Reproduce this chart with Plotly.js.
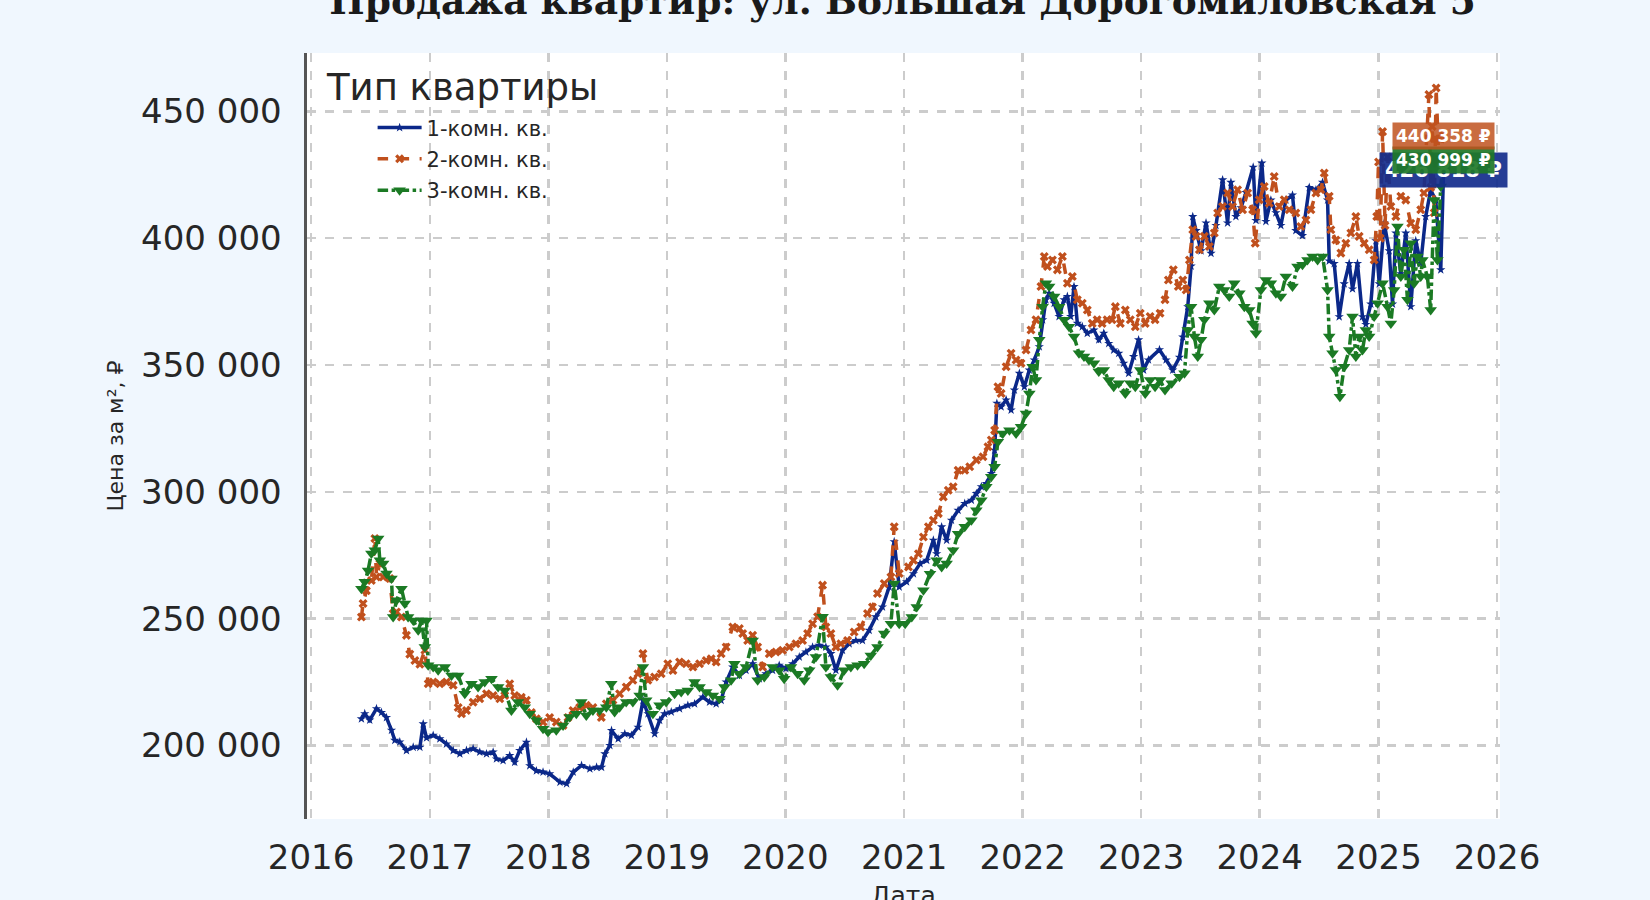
<!DOCTYPE html>
<html>
<head>
<meta charset="utf-8">
<script src="https://cdn.plot.ly/plotly-3.0.1.min.js"></script>
<style>html,body{margin:0;padding:0;background:#F0F7FE;}</style>
</head>
<body>
<div id="chart" style="width:1650px;height:900px;"></div>
<script>
// ---- data (dates as decimal years, prices in ₽ per m²) ----
const seriesNames = ['1-комн. кв.', '2-комн. кв.', '3-комн. кв.'];
const legendTitle = 'Тип квартиры';
const xTitle = 'Дата';
const yearTicks = [2016, 2017, 2018, 2019, 2020, 2021, 2022, 2023, 2024, 2025, 2026];
const priceTicks = [200000, 250000, 300000, 350000, 400000, 450000];

const oneRoomYears = [2016.424,2016.452,2016.494,2016.551,2016.593,2016.635,2016.677,2016.705,2016.747,2016.803,2016.860,2016.916,2016.944,2016.972,2017.028,2017.084,2017.140,2017.197,2017.253,2017.309,2017.365,2017.421,2017.478,2017.534,2017.562,2017.618,2017.674,2017.716,2017.758,2017.815,2017.843,2017.899,2017.955,2018.011,2018.098,2018.154,2018.210,2018.280,2018.350,2018.407,2018.449,2018.477,2018.519,2018.533,2018.589,2018.645,2018.701,2018.757,2018.799,2018.841,2018.897,2018.939,2018.981,2019.037,2019.107,2019.177,2019.234,2019.304,2019.360,2019.416,2019.458,2019.500,2019.556,2019.612,2019.668,2019.724,2019.780,2019.836,2019.892,2019.948,2020.004,2020.061,2020.117,2020.173,2020.229,2020.285,2020.341,2020.383,2020.425,2020.481,2020.537,2020.593,2020.649,2020.705,2020.761,2020.817,2020.874,2020.916,2020.958,2021.020,2021.078,2021.134,2021.190,2021.246,2021.274,2021.316,2021.358,2021.399,2021.455,2021.511,2021.567,2021.609,2021.651,2021.693,2021.735,2021.763,2021.782,2021.818,2021.860,2021.902,2021.930,2021.972,2022.014,2022.056,2022.098,2022.140,2022.168,2022.196,2022.223,2022.265,2022.307,2022.349,2022.377,2022.405,2022.433,2022.461,2022.503,2022.545,2022.601,2022.642,2022.684,2022.726,2022.768,2022.810,2022.852,2022.894,2022.936,2022.978,2023.020,2023.061,2023.154,2023.210,2023.266,2023.323,2023.351,2023.393,2023.421,2023.435,2023.463,2023.505,2023.547,2023.589,2023.631,2023.687,2023.729,2023.757,2023.799,2023.842,2023.884,2023.945,2023.968,2024.018,2024.052,2024.094,2024.136,2024.178,2024.220,2024.276,2024.304,2024.360,2024.417,2024.473,2024.529,2024.571,2024.585,2024.627,2024.669,2024.711,2024.753,2024.781,2024.823,2024.865,2024.893,2024.935,2024.978,2025.006,2025.048,2025.090,2025.118,2025.146,2025.188,2025.230,2025.272,2025.314,2025.356,2025.398,2025.440,2025.483,2025.525,2025.549];
const oneRoomPrices = [210500,212500,210000,214500,213000,211000,206000,202000,201400,198000,199300,199300,208500,203000,204000,202600,200600,198000,196700,198000,198700,197400,196700,197400,194700,194000,196000,193400,198000,201300,192000,190000,189500,188800,185500,184900,189500,192100,190800,191400,191400,196700,200000,205900,202600,204600,204000,207200,217800,212500,204600,209900,212500,213200,214500,215800,216400,219100,217100,216400,217800,225000,230900,227600,229600,232200,226300,228300,229600,231600,230300,232200,234900,236800,238800,239500,238800,236200,229600,237500,240100,241400,241400,245400,250700,254600,262500,280300,262500,264500,267700,271700,273000,280900,275600,286200,280900,288800,292700,295400,296700,299300,302000,303300,307200,316400,334900,333500,336200,332200,340100,346700,341400,348000,352000,357200,367800,375700,378300,374300,369100,375700,377000,369100,380900,366400,365100,362500,363800,359900,362500,358500,355900,354600,350700,346700,353300,359900,348000,352000,356000,352000,348000,353000,361000,373000,389000,408500,403000,395000,406000,394000,405000,423000,406000,422000,408500,412000,418000,428000,407000,429600,406600,415000,410000,405000,415000,417000,403000,401000,420000,419000,422000,415000,391000,390000,369000,382000,390000,380000,390000,369000,366000,374000,399000,382000,406000,395000,374000,402000,386000,402000,373000,399000,390000,408500,419000,415000,387500,426818];

const twoRoomYears = [2016.424,2016.438,2016.466,2016.508,2016.537,2016.551,2016.579,2016.607,2016.663,2016.691,2016.719,2016.761,2016.803,2016.831,2016.874,2016.916,2016.958,2016.986,2017.028,2017.084,2017.140,2017.197,2017.239,2017.267,2017.309,2017.365,2017.421,2017.478,2017.534,2017.590,2017.632,2017.674,2017.716,2017.772,2017.815,2017.857,2017.899,2017.955,2018.011,2018.067,2018.124,2018.166,2018.208,2018.264,2018.320,2018.376,2018.447,2018.489,2018.545,2018.601,2018.657,2018.713,2018.756,2018.798,2018.840,2018.896,2018.952,2019.008,2019.051,2019.107,2019.163,2019.220,2019.276,2019.332,2019.374,2019.416,2019.458,2019.500,2019.556,2019.612,2019.640,2019.682,2019.724,2019.766,2019.808,2019.864,2019.920,2019.976,2020.033,2020.089,2020.145,2020.187,2020.229,2020.271,2020.313,2020.341,2020.383,2020.425,2020.467,2020.523,2020.579,2020.635,2020.691,2020.733,2020.775,2020.832,2020.888,2020.916,2020.958,2021.036,2021.078,2021.120,2021.162,2021.204,2021.246,2021.288,2021.330,2021.372,2021.413,2021.455,2021.511,2021.553,2021.609,2021.665,2021.707,2021.735,2021.763,2021.791,2021.818,2021.860,2021.902,2021.944,2021.986,2022.028,2022.070,2022.112,2022.154,2022.182,2022.209,2022.251,2022.293,2022.335,2022.377,2022.419,2022.461,2022.503,2022.545,2022.587,2022.628,2022.670,2022.712,2022.754,2022.782,2022.824,2022.866,2022.908,2022.950,2022.992,2023.034,2023.075,2023.117,2023.159,2023.201,2023.229,2023.271,2023.313,2023.351,2023.379,2023.407,2023.435,2023.463,2023.491,2023.533,2023.575,2023.617,2023.645,2023.687,2023.729,2023.771,2023.813,2023.856,2023.898,2023.940,2023.962,2023.996,2024.038,2024.080,2024.122,2024.164,2024.206,2024.248,2024.304,2024.346,2024.389,2024.431,2024.473,2024.515,2024.543,2024.585,2024.599,2024.641,2024.683,2024.725,2024.767,2024.809,2024.837,2024.879,2024.921,2024.963,2024.985,2025.000,2025.015,2025.034,2025.055,2025.076,2025.104,2025.146,2025.188,2025.230,2025.272,2025.314,2025.356,2025.383,2025.425,2025.440,2025.453,2025.470,2025.486,2025.508,2025.549];
const twoRoomPrices = [250600,256000,261000,265000,281600,266400,271700,266400,265800,252000,252600,250600,243400,236000,233500,232000,237500,224300,225000,224300,225000,223700,215000,212500,213800,217000,218400,220400,219700,218400,219700,224300,219700,219000,217800,213000,210500,209200,211000,209200,207900,211000,213800,215000,215800,215000,211000,216400,217800,220400,223000,225700,228300,236200,225700,227000,228300,232200,229600,232900,232200,230900,232200,233500,234200,232900,236200,238800,246700,246100,244100,241400,243400,238800,230900,236200,236800,237500,238800,240100,241400,244100,248000,250700,263200,246700,244100,238800,240100,241400,244700,246700,252000,254600,259900,263800,266400,286200,267800,270400,273000,275600,282200,286200,288800,291400,298000,300600,302000,308500,308500,309900,312500,313800,317800,320400,324300,341400,338800,349300,354600,352000,350700,355900,363800,367800,380900,392800,388800,391400,387500,392800,382200,384900,375700,374300,371700,366400,367800,366400,367800,367800,373000,366400,371700,367800,365100,370400,366400,369100,367800,370400,375700,383500,387500,380900,383500,379600,391400,403300,400700,395400,400700,396700,402000,409900,412500,417800,412500,419100,411200,417800,411200,398000,415100,420400,413800,424300,412500,415100,411200,409900,404600,407200,411200,417800,419100,425700,416500,403300,399300,394100,398000,402000,408500,400700,398000,395400,391400,408500,430000,400000,442000,405000,432000,412500,408500,416500,415000,405900,403300,411200,417800,456600,420000,444000,410000,459200,431000,440358];

const threeRoomYears = [2016.424,2016.452,2016.480,2016.508,2016.537,2016.565,2016.579,2016.607,2016.635,2016.677,2016.691,2016.719,2016.761,2016.789,2016.817,2016.860,2016.902,2016.930,2016.958,2016.972,2016.986,2017.028,2017.070,2017.126,2017.183,2017.239,2017.295,2017.351,2017.407,2017.463,2017.520,2017.576,2017.632,2017.688,2017.744,2017.801,2017.843,2017.899,2017.955,2017.997,2018.067,2018.124,2018.180,2018.236,2018.278,2018.320,2018.376,2018.433,2018.489,2018.531,2018.559,2018.601,2018.657,2018.713,2018.770,2018.798,2018.826,2018.882,2018.938,2018.994,2019.065,2019.121,2019.177,2019.234,2019.276,2019.332,2019.388,2019.444,2019.486,2019.542,2019.570,2019.612,2019.668,2019.724,2019.766,2019.822,2019.892,2019.948,2019.990,2020.047,2020.103,2020.159,2020.201,2020.257,2020.313,2020.341,2020.383,2020.439,2020.495,2020.551,2020.607,2020.663,2020.719,2020.775,2020.832,2020.888,2020.916,2020.958,2021.008,2021.064,2021.106,2021.162,2021.218,2021.274,2021.316,2021.358,2021.413,2021.455,2021.511,2021.567,2021.609,2021.651,2021.693,2021.735,2021.763,2021.791,2021.832,2021.888,2021.944,2021.986,2022.028,2022.056,2022.084,2022.112,2022.140,2022.168,2022.196,2022.223,2022.265,2022.307,2022.349,2022.391,2022.433,2022.475,2022.517,2022.559,2022.601,2022.642,2022.684,2022.726,2022.768,2022.810,2022.866,2022.908,2022.950,2022.992,2023.034,2023.075,2023.117,2023.159,2023.201,2023.257,2023.323,2023.365,2023.393,2023.421,2023.449,2023.477,2023.505,2023.533,2023.575,2023.617,2023.659,2023.701,2023.743,2023.785,2023.828,2023.870,2023.912,2023.940,2023.968,2024.010,2024.052,2024.094,2024.136,2024.178,2024.220,2024.276,2024.318,2024.360,2024.402,2024.445,2024.487,2024.529,2024.571,2024.585,2024.613,2024.641,2024.675,2024.711,2024.753,2024.781,2024.809,2024.837,2024.865,2024.893,2024.921,2024.963,2024.992,2025.034,2025.076,2025.104,2025.132,2025.160,2025.188,2025.216,2025.244,2025.272,2025.300,2025.328,2025.356,2025.370,2025.412,2025.440,2025.469,2025.497,2025.525,2025.549];
const threeRoomPrices = [261800,264500,269000,275700,277000,281600,273000,271700,267800,265800,250600,257200,261800,256000,250600,249300,245400,249300,238800,249300,231600,230900,229600,230900,227600,227600,220400,224300,223000,225000,226300,223000,221700,213800,217100,215100,212500,209900,206600,205300,206000,207900,211200,212500,217100,211800,213800,213800,215100,224300,213200,215100,217100,217100,219700,230900,217800,212500,215800,217100,220400,221100,221700,225000,223000,221100,219700,218400,223000,225700,232200,228300,230900,241400,225700,227000,230900,229600,226300,230900,228300,225700,229600,234900,250700,230900,227000,223700,229600,230900,231600,232200,235500,238800,244100,248000,263800,248000,248000,250600,254600,261200,267700,273000,270400,271700,277000,283500,286200,288800,292700,296700,302000,305900,309900,319700,323000,324300,323000,325600,330900,338800,349300,344100,359900,373000,382200,380900,377000,373000,367800,365100,361200,354600,353300,352000,350700,347400,348000,344100,341400,342800,338800,342800,341400,348000,338800,344100,341400,344100,340100,342800,345400,346700,363800,373000,361200,353300,359900,367800,374300,371700,380900,379600,377000,382200,378300,373000,371700,366400,362500,379600,383500,382200,378300,377000,384900,380900,388800,389500,391400,392800,391400,392800,379600,361200,354600,348000,337500,349300,355900,369100,353300,361200,355900,363800,361200,369100,374300,382200,373000,366400,379600,404600,384900,395400,375700,398000,382200,392800,384900,391400,384900,371700,415000,391400,420400,430999];

// ---- helpers ----
function yearToDate(y) {
  const yr = Math.floor(y);
  const start = Date.UTC(yr, 0, 1), end = Date.UTC(yr + 1, 0, 1);
  return new Date(start + (y - yr) * (end - start)).toISOString().slice(0, 19);
}
function fmtRub(v) {
  return String(v).replace(/\B(?=(\d{3})+(?!\d))/g, ' ') + ' ₽';
}

const colors = ['#0b2889', '#c0501d', '#1b7a24'];
const allYears = [oneRoomYears, twoRoomYears, threeRoomYears];
const allPrices = [oneRoomPrices, twoRoomPrices, threeRoomPrices];
const dashes = ['solid', 'dash', 'dashdot'];
const symbols = ['star', 'x', 'triangle-down'];
const msizes = [7, 8, 11];
const lwidths = [3.5, 3.5, 3.5];

const traces = allYears.map((ys, i) => ({
  type: 'scatter',
  mode: 'lines+markers',
  name: seriesNames[i],
  legendgroup: 'g' + i,
  x: ys.map(yearToDate),
  y: allPrices[i],
  line: {color: colors[i], width: lwidths[i], dash: dashes[i]},
  marker: {color: colors[i], symbol: symbols[i], size: msizes[i], line: {width: 0}},
  hoverinfo: 'skip'
}));

// value labels at the last point of each series (blue, green, orange order for stacking)
const labelOrder = [0, 2, 1];
const labelBg = ['rgba(20,45,140,0.92)', 'rgba(192,82,30,0.85)', 'rgba(30,120,40,0.92)'];
const labelFont = [21, 17, 17];
const labelPad = [5, 3, 3];
const annotations = labelOrder.map(i => {
  const ys = allYears[i], ps = allPrices[i];
  return {
    x: yearToDate(ys[ys.length - 1]), y: ps[ps.length - 1],
    xref: 'x', yref: 'y', showarrow: false,
    text: '<b>' + fmtRub(ps[ps.length - 1]) + '</b>',
    font: {family: 'DejaVu Sans', size: labelFont[i], color: '#ffffff'},
    bgcolor: labelBg[i], borderpad: labelPad[i],
    xanchor: 'center', yanchor: 'middle'
  };
});
// legend title (drawn as text so the legend entries can be indented like the original)
annotations.unshift({
  text: legendTitle, xref: 'paper', yref: 'paper', x: 0.014, y: 0.955,
  xanchor: 'left', yanchor: 'middle', showarrow: false,
  font: {family: 'DejaVu Sans', size: 37, color: '#262626'}
});
// x-axis title, placed low like the original (partly below the page edge)
annotations.push({
  text: xTitle, xref: 'paper', yref: 'paper', x: 0.5, y: -0.1,
  xanchor: 'center', yanchor: 'middle', showarrow: false,
  font: {family: 'DejaVu Sans', size: 25, color: '#262626'}
});

const layout = {
  width: 1650, height: 900,
  margin: {l: 307, r: 150, t: 53, b: 81},
  paper_bgcolor: '#F0F7FE',
  plot_bgcolor: '#FFFFFF',
  font: {family: 'DejaVu Sans', color: '#262626'},
  separators: '. ',
  title: {
    text: '<b>Продажа квартир: ул. Большая Дорогомиловская 5</b>',
    font: {family: 'DejaVu Serif', size: 37.5, color: '#1a1a1a'},
    x: 0.547, xref: 'container', xanchor: 'center',
    y: 0.985, yref: 'container', yanchor: 'bottom'
  },
  showlegend: true,
  legend: {
    font: {size: 21, color: '#262626'},
    x: 0.055, y: 0.929, xanchor: 'left', yanchor: 'top',
    bgcolor: 'rgba(0,0,0,0)', borderwidth: 0,
    itemwidth: 44,
    traceorder: 'grouped', tracegroupgap: 1
  },
  xaxis: {
    type: 'date',
    range: [yearToDate(2015.966), yearToDate(2026.025)],
    tickvals: yearTicks.map(y => yearToDate(y)),
    ticktext: yearTicks.map(String),
    tickfont: {size: 34, color: '#262626'},
    ticks: '', ticklabelstandoff: 15,
    showgrid: true, gridcolor: '#cccccc', griddash: 'dash', gridwidth: 2.5,
    zeroline: false, showline: false,
    automargin: false
  },
  yaxis: {
    range: [171000, 473000],
    tickvals: priceTicks,
    tickformat: ',d',
    tickfont: {size: 34, color: '#262626'},
    ticks: '', ticklabelstandoff: 15,
    showgrid: true, gridcolor: '#cccccc', griddash: 'dash', gridwidth: 2.5,
    zeroline: false,
    showline: true, linecolor: '#555555', linewidth: 3.5,
    title: {text: 'Цена за м², ₽', font: {size: 22, color: '#262626'}, standoff: 12},
    automargin: false
  },
  annotations: annotations
};

Plotly.newPlot('chart', traces, layout, {displayModeBar: false, staticPlot: true});
</script>
</body>
</html>
